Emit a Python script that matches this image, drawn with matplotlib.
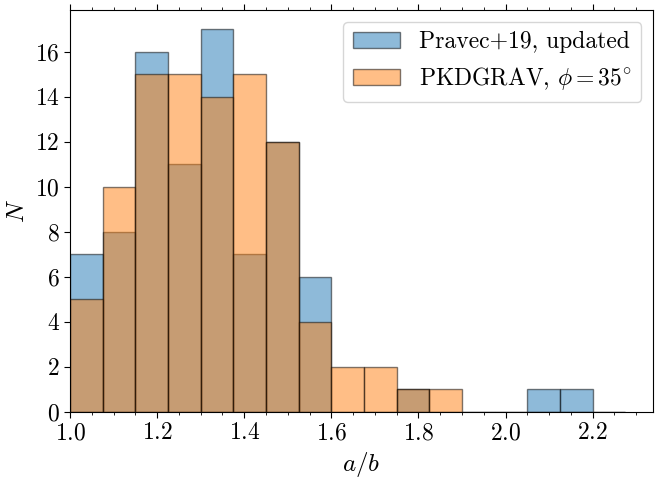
import numpy as np
import matplotlib
matplotlib.use('Agg')
import matplotlib.pyplot as plt

plt.rcParams['font.family'] = 'serif'
plt.rcParams['font.serif'] = ['cmr10']
plt.rcParams['mathtext.fontset'] = 'cm'
plt.rcParams['axes.unicode_minus'] = False
plt.rcParams['axes.formatter.use_mathtext'] = True

# histogram bins (a/b) and counts
bin_edges = np.round(np.arange(1.0, 2.275 + 1e-9, 0.075), 3)
pravec_counts = [7, 8, 16, 11, 17, 7, 12, 6, 0, 0, 1, 0, 0, 0, 1, 1, 0]
pkdgrav_counts = [5, 10, 15, 15, 14, 15, 12, 4, 2, 2, 1, 1, 0, 0, 0, 0, 0]
labels = ['Pravec+19, updated', r'PKDGRAV, $\phi = 35^{\circ}$']

centers = 0.5 * (bin_edges[:-1] + bin_edges[1:])

fig = plt.figure(figsize=(6.55, 4.8), dpi=100)
ax = fig.add_axes([0.107, 0.142, 0.89, 0.837])

ax.hist(centers, bins=bin_edges, weights=pravec_counts, color='C0', alpha=0.5,
        edgecolor='k', linewidth=1.0, label=labels[0])
ax.hist(centers, bins=bin_edges, weights=pkdgrav_counts, color='C1', alpha=0.5,
        edgecolor='k', linewidth=1.0, label=labels[1])

ax.set_xlim(left=1.0)
ax.set_xticks([1.0, 1.2, 1.4, 1.6, 1.8, 2.0, 2.2])
ax.set_xticks(np.arange(1.0, 2.33, 0.05), minor=True)
ax.set_yticks(range(0, 17, 2))
ax.tick_params(axis='x', which='both', top=True, direction='out')
ax.tick_params(axis='both', which='major', labelsize=17, length=4)
ax.tick_params(axis='x', which='minor', length=2.5)

ax.set_xlabel(r'$a/b$', fontsize=18)
ax.set_ylabel(r'$N$', fontsize=18)
ax.legend(loc='upper right', fontsize=17)

fig.savefig('out.png', dpi=100)
